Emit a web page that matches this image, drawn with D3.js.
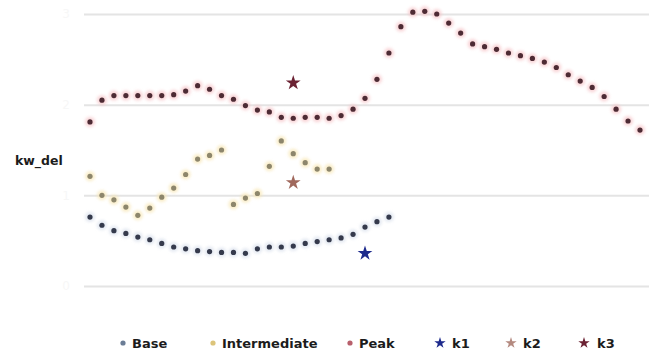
<!DOCTYPE html>
<html>
<head>
<meta charset="utf-8">
<script src="https://cdn.jsdelivr.net/npm/d3@7"></script>
<style>
  html, body { margin: 0; padding: 0; background: #ffffff; }
  svg { display: block; }
</style>
</head>
<body>
<svg id="chart" width="649" height="354"></svg>
<script>
// Hourly kW delta profiles, one value per time slot
const slots = d3.range(1, 48);

const baseValues = [0.76, 0.67, 0.61, 0.58, 0.54, 0.51, 0.47, 0.43, 0.41, 0.39,
  0.38, 0.37, 0.37, 0.36, 0.41, 0.43, 0.43, 0.44, 0.47, 0.49,
  0.51, 0.53, 0.57, 0.65, 0.71, 0.76];

const intermediateValues = [1.21, 1.00, 0.95, 0.87, 0.78, 0.86, 0.98, 1.08, 1.23, 1.40,
  1.44, 1.50, 0.90, 0.97, 1.02, 1.32, 1.60, 1.46, 1.36, 1.29, 1.29];

const peakValues = [1.81, 2.05, 2.10, 2.10, 2.10, 2.10, 2.10, 2.11, 2.15, 2.21,
  2.17, 2.10, 2.06, 1.99, 1.94, 1.92, 1.86, 1.85, 1.86, 1.86,
  1.85, 1.88, 1.95, 2.07, 2.28, 2.57, 2.86, 3.02, 3.03, 3.00,
  2.90, 2.79, 2.67, 2.64, 2.61, 2.57, 2.54, 2.51, 2.47, 2.41,
  2.33, 2.26, 2.19, 2.09, 1.95, 1.82, 1.72];

// Single marker points: [slot, value]
const k1Point = [24, 0.36];
const k2Point = [18, 1.14];
const k3Point = [18, 2.24];

const yTicks = [0, 1, 2, 3];
const legendLabels = ["Base", "Intermediate", "Peak", "k1", "k2", "k3"];
const yLabel = "kw_del";

// ---- drawing ----
const svg = d3.select("#chart");

const x = d3.scaleLinear().domain([1, 47]).range([90, 640]);
const y = d3.scaleLinear().domain([0, 3]).range([286, 14]);

const defs = svg.append("defs");
defs.append("filter").attr("id", "glow")
  .attr("x", "-100%").attr("y", "-100%").attr("width", "300%").attr("height", "300%")
  .append("feGaussianBlur").attr("stdDeviation", 1.6);

// horizontal gridlines with very pale tick labels
const yAxis = d3.axisLeft(y).tickValues(yTicks).tickSize(-(649 - 84)).tickFormat(d3.format(".0f"));
const gy = svg.append("g").attr("transform", "translate(84,0)").call(yAxis);
gy.select(".domain").remove();
gy.selectAll(".tick line").attr("stroke", "#e4e4e4").attr("stroke-width", 2);
gy.selectAll(".tick text").attr("fill", "#f7f7f7").attr("font-size", 12)
  .attr("font-family", "DejaVu Sans").attr("x", -14);

svg.append("text")
  .attr("x", 15).attr("y", 165)
  .attr("font-family", "DejaVu Sans").attr("font-weight", "bold")
  .attr("font-size", 12.5).attr("fill", "#1c1c1c")
  .text(yLabel);

function dotSeries(values, halo, core) {
  const g = svg.append("g");
  const pts = values.map((v, i) => [slots[i], v]);
  g.selectAll("circle.halo").data(pts).join("circle")
    .attr("class", "halo")
    .attr("cx", d => x(d[0])).attr("cy", d => y(d[1]))
    .attr("r", 5).attr("fill", halo).attr("opacity", 0.7)
    .attr("filter", "url(#glow)");
  g.selectAll("circle.core").data(pts).join("circle")
    .attr("class", "core")
    .attr("cx", d => x(d[0])).attr("cy", d => y(d[1]))
    .attr("r", 2.6).attr("fill", core);
}

dotSeries(baseValues, "#d9e0ec", "#353a4c");
dotSeries(intermediateValues, "#f7e6b4", "#8d866c");
dotSeries(peakValues, "#f6c4c8", "#4d2b34");

const star = d3.symbol().type(d3.symbolStar);
function starPoint(p, color, size) {
  svg.append("path")
    .attr("d", star.size(size)())
    .attr("transform", `translate(${x(p[0])},${y(p[1])})`)
    .attr("fill", color);
}
starPoint(k1Point, "#1d2a8c", 68);
starPoint(k2Point, "#a0685c", 68);
starPoint(k3Point, "#6b2233", 68);

// legend
const legendY = 343;
const legendLayout = [
  { mx: 123, tx: 132, kind: "dot", color: "#6b7d96" },
  { mx: 213, tx: 222, kind: "dot", color: "#dcc47a" },
  { mx: 350, tx: 359, kind: "dot", color: "#b8606c" },
  { mx: 440, tx: 452, kind: "star", color: "#1d2a8c" },
  { mx: 511, tx: 523, kind: "star", color: "#b48a80" },
  { mx: 584, tx: 597, kind: "star", color: "#6b2233" }
];
const lg = svg.append("g");
legendLabels.forEach((label, i) => {
  const L = legendLayout[i];
  if (L.kind === "dot") {
    lg.append("circle").attr("cx", L.mx).attr("cy", legendY).attr("r", 2.6).attr("fill", L.color);
  } else {
    lg.append("path").attr("d", star.size(40)())
      .attr("transform", `translate(${L.mx},${legendY})`).attr("fill", L.color);
  }
  lg.append("text")
    .attr("x", L.tx).attr("y", legendY + 5)
    .attr("font-family", "DejaVu Sans").attr("font-weight", "bold")
    .attr("font-size", 13).attr("fill", "#1c1c1c")
    .text(label);
});
</script>
</body>
</html>
